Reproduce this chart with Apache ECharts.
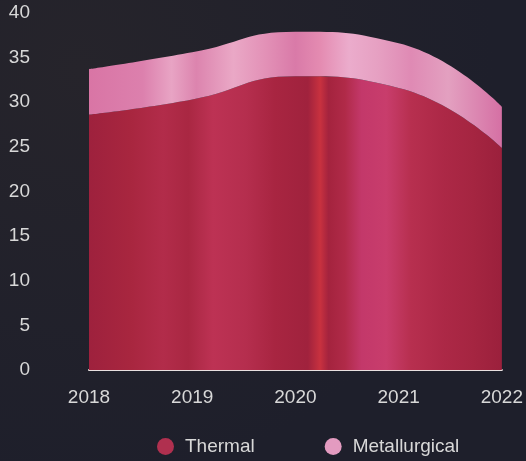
<!DOCTYPE html>
<html><head><meta charset="utf-8">
<script src="https://cdn.jsdelivr.net/npm/echarts@6/dist/echarts.min.js"></script>
<style>html,body{margin:0;padding:0;background:#1e1f2a;}#c{width:526px;height:461px;}</style>
</head><body><div id="c"></div>
<script>
const years = ['2018', '2019', '2020', '2021', '2022'];
const thermal = [28.6, 30.3, 32.9, 31.6, 24.9];
const metallurgical = [5.1, 5.3, 5.0, 5.0, 4.6];
const yTicks = [0, 5, 10, 15, 20, 25, 30, 35, 40];

function streaks(stops) {
  return { type: 'linear', x: 0, y: 0, x2: 1, y2: 0, colorStops: stops.map(s => ({ offset: s[0], color: s[1] })) };
}
const thermalFill = streaks([
  [0, '#9e213d'], [0.1, '#a8263f'], [0.18, '#b22c4a'], [0.24, '#a92742'], [0.3, '#bd3254'], [0.38, '#b52e4e'],
  [0.45, '#a82541'], [0.53, '#a0223d'], [0.56, '#c8313f'], [0.58, '#a4233e'], [0.62, '#b02a48'], [0.66, '#c3386a'],
  [0.72, '#c83d6c'], [0.78, '#b72f4f'], [0.86, '#ac2846'], [0.93, '#a52541'], [1, '#9b203c']
]);
const metFill = streaks([
  [0, '#d975a5'], [0.13, '#dc80ad'], [0.2, '#e8a4c4'], [0.26, '#dc84ae'], [0.35, '#eaa8c6'],
  [0.43, '#e290b6'], [0.5, '#d97aa8'], [0.56, '#e48bb1'], [0.63, '#ebaccc'], [0.7, '#e6a0c2'],
  [0.78, '#df8ab4'], [0.87, '#e3a0c0'], [1, '#d570a4']
]);

const chart = echarts.init(document.getElementById('c'));
chart.setOption({
  backgroundColor: {
    type: 'radial', x: 0.15, y: 0.15, r: 0.9,
    colorStops: [{ offset: 0, color: '#26242b' }, { offset: 1, color: '#1e1f2b' }]
  },
  textStyle: { fontFamily: 'Liberation Sans, Helvetica, Arial, sans-serif' },
  grid: { left: 89, right: 24, top: 13, bottom: 91 },
  legend: {
    left: 157, top: 437, padding: 0, icon: 'circle', itemWidth: 17, itemHeight: 17, itemGap: 70,
    textStyle: { color: '#d8d8d8', fontSize: 19, padding: [0, 0, 0, 6] },
    data: ['Thermal', 'Metallurgical']
  },
  xAxis: {
    type: 'category', boundaryGap: false, data: years,
    axisLine: { lineStyle: { color: '#e8e0e0', width: 2 } },
    axisTick: { show: false },
    axisLabel: { color: '#d8d8d8', fontSize: 19, margin: 18 }
  },
  yAxis: {
    type: 'value', min: yTicks[0], max: yTicks[yTicks.length - 1], interval: 5,
    splitLine: { show: false }, axisLine: { show: false }, axisTick: { show: false },
    axisLabel: { color: '#d8d8d8', fontSize: 19, margin: 59 }
  },
  series: [
    { name: 'Thermal', type: 'line', stack: 'a', smooth: true, data: thermal, symbol: 'none',
      color: '#b0304f', lineStyle: { width: 0 }, areaStyle: { color: thermalFill, opacity: 1 } },
    { name: 'Metallurgical', type: 'line', stack: 'a', smooth: true, data: metallurgical, symbol: 'none',
      color: '#e39bc0', lineStyle: { width: 0 }, areaStyle: { color: metFill, opacity: 1 } }
  ]
});
</script></body></html>
